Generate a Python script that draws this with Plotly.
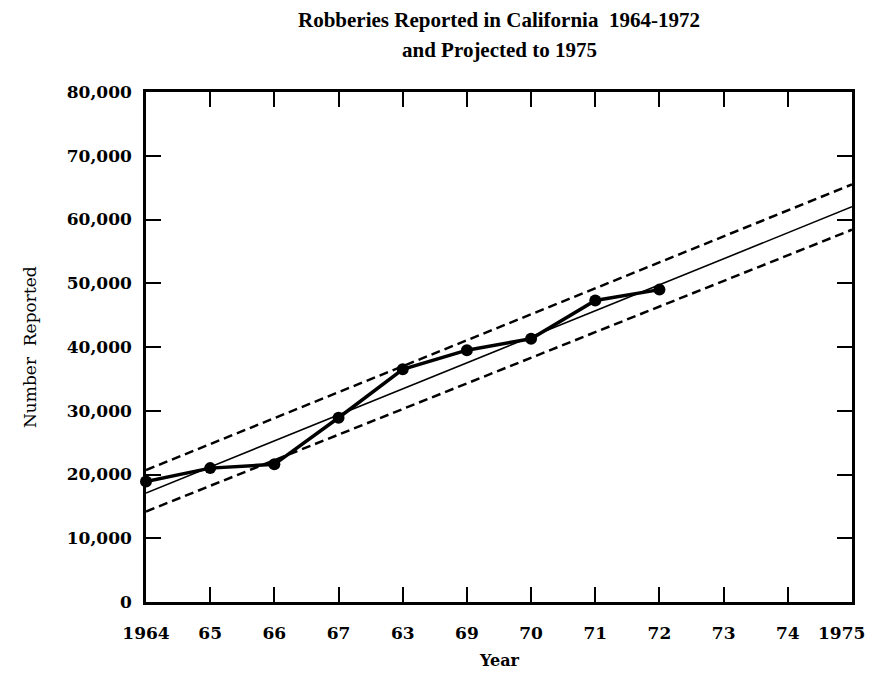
import plotly.graph_objects as go

# Reported robberies
years = [1964, 1965, 1966, 1967, 1968, 1969, 1970, 1971, 1972]
robberies = [18900, 21000, 21600, 28900, 36500, 39500, 41300, 47300, 49000]

# Fitted trend and confidence band, projected to 1975
trend_years = [1964, 1975]
trend = [17100, 62000]
upper = [20700, 65500]
lower = [14200, 58400]

tick_years = list(range(1964, 1976))
tick_labels = ["1964", "65", "66", "67", "63", "69", "70", "71", "72", "73", "74", "1975"]
y_ticks = [0, 10000, 20000, 30000, 40000, 50000, 60000, 70000, 80000]
y_labels = ["0", "10,000", "20,000", "30,000", "40,000", "50,000", "60,000", "70,000", "80,000"]

SERIF = "DejaVu Serif"
TITLE_FONT = "Liberation Serif"

fig = go.Figure()

fig.add_trace(go.Scatter(
    x=trend_years, y=upper, mode="lines",
    line=dict(color="black", width=2.5, dash="9px,5px"),
    hoverinfo="skip", showlegend=False, cliponaxis=False,
))
fig.add_trace(go.Scatter(
    x=trend_years, y=lower, mode="lines",
    line=dict(color="black", width=2.5, dash="9px,5px"),
    hoverinfo="skip", showlegend=False, cliponaxis=False,
))
fig.add_trace(go.Scatter(
    x=trend_years, y=trend, mode="lines",
    line=dict(color="black", width=1.6),
    hoverinfo="skip", showlegend=False, cliponaxis=False,
))
fig.add_trace(go.Scatter(
    x=years, y=robberies, mode="lines+markers",
    line=dict(color="black", width=3.5),
    marker=dict(color="black", size=12),
    showlegend=False, cliponaxis=False,
))

# margins allow for the 8px body margin of the page
fig.update_layout(
    width=878, height=676,
    margin=dict(l=138, r=34, t=84, b=82),
    plot_bgcolor="white",
    paper_bgcolor="white",
    font=dict(family=SERIF, color="black"),
    annotations=[
        dict(text="<b>Robberies Reported in California  1964-1972</b>",
             x=0.5, y=1, xref="paper", yref="paper", yshift=72, yanchor="middle",
             showarrow=False, font=dict(family=TITLE_FONT, size=21, color="black")),
        dict(text="<b>and Projected to 1975</b>",
             x=0.5, y=1, xref="paper", yref="paper", yshift=42, yanchor="middle",
             showarrow=False, font=dict(family=TITLE_FONT, size=21, color="black")),
        dict(text="Number  Reported", textangle=-90,
             x=0, y=0.5, xref="paper", yref="paper", xshift=-116,
             xanchor="center", yanchor="middle",
             showarrow=False, font=dict(family=SERIF, size=17, color="black")),
        dict(text="<b>Year</b>",
             x=0.5, y=0, xref="paper", yref="paper", yshift=-58,
             xanchor="center", yanchor="middle",
             showarrow=False, font=dict(family=SERIF, size=16, color="black")),
        # last year label, right-aligned so it stays inside the window
        dict(text=tick_labels[-1],
             x=tick_years[-1], y=0, xref="x", yref="paper", xshift=15, yshift=-31,
             xanchor="right", yanchor="middle",
             showarrow=False, font=dict(family=SERIF, size=17, weight="bold", color="black")),
    ],
)

fig.update_xaxes(
    range=[1964, 1975], automargin=False,
    tickvals=tick_years, ticktext=tick_labels[:-1] + [""],
    ticks="inside", ticklen=15, tickwidth=2, tickcolor="black",
    showline=True, linewidth=2.5, linecolor="black", mirror="ticks",
    showgrid=False, zeroline=False,
    tickfont=dict(family=SERIF, size=17, weight="bold"),
    ticklabelstandoff=14,
)
fig.update_yaxes(
    range=[0, 80000], automargin=False,
    tickvals=y_ticks, ticktext=y_labels,
    ticks="inside", ticklen=15, tickwidth=2, tickcolor="black",
    showline=True, linewidth=2.5, linecolor="black", mirror="ticks",
    showgrid=False, zeroline=False,
    tickfont=dict(family=SERIF, size=17, weight="bold"),
    ticklabelstandoff=8,
)

fig.write_html("out.html")
